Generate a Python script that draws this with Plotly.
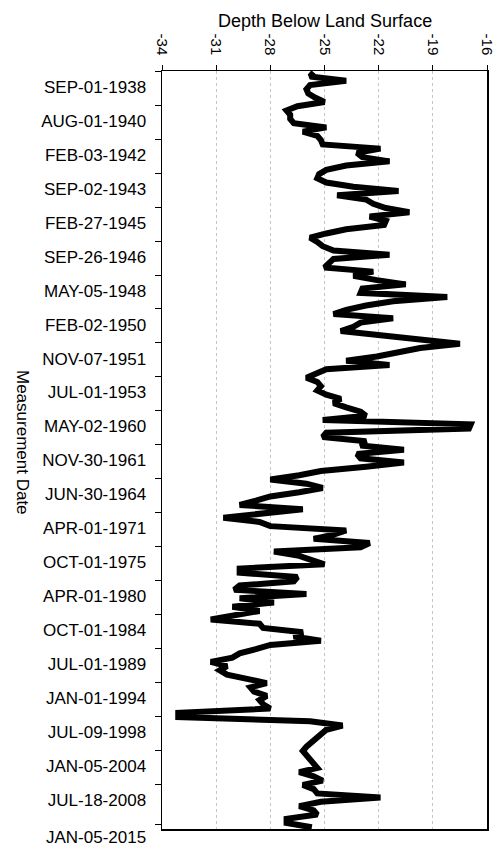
import plotly.graph_objects as go

# Depth below land surface, one value per measurement (top = oldest)
depth = [
    -25.6, -25.8, -23.8, -25.8, -26.0, -25.9, -25.5, -25.0, -26.5, -27.1,
    -26.9, -26.9, -26.7, -24.9, -26.2, -25.4, -25.2, -25.1, -21.9, -23.2,
    -22.9, -21.4, -23.8, -24.9, -25.3, -25.4, -24.9, -23.4, -20.9, -24.3,
    -22.7, -22.3, -21.6, -20.3, -22.5, -21.6, -21.7, -23.8, -24.9, -25.8,
    -25.4, -25.1, -24.5, -21.4, -24.5, -24.7, -25.0, -22.3, -23.4, -22.1,
    -20.5, -22.9, -23.0, -18.2, -21.2, -22.7, -23.8, -24.5, -21.2, -23.0,
    -23.4, -24.1, -22.1, -19.5, -17.5, -19.7, -20.8, -22.1, -23.8, -21.4,
    -24.9, -25.4, -26.0, -25.4, -25.2, -25.4, -24.9, -24.1, -24.5, -23.8,
    -23.0, -22.7, -25.1, -16.9, -17.0, -24.9, -25.1, -22.7, -23.0, -20.6,
    -23.2, -23.0, -20.6, -22.7, -25.2, -26.4, -28.0, -26.0, -25.1, -26.4,
    -28.0, -28.8, -29.7, -26.2, -28.6, -30.6, -28.6, -28.0, -23.8, -24.5,
    -25.6, -22.5, -23.0, -27.8, -26.4, -25.8, -25.0, -29.7, -29.7, -26.5,
    -26.7, -29.7, -30.0, -26.0, -29.7, -27.8, -30.1, -28.6, -30.1, -31.3,
    -28.6, -28.4, -26.2, -26.7, -25.2, -28.0, -28.8, -29.7, -30.1, -31.3,
    -30.4, -30.8, -30.4, -29.3, -28.2, -29.1, -28.9, -28.2, -28.6, -28.4,
    -28.0, -33.1, -33.1, -25.8, -24.0, -24.9, -25.2, -25.4, -25.7, -26.0,
    -26.2, -26.0, -25.8, -25.6, -25.4, -26.4, -25.6, -25.1, -26.2, -25.6,
    -25.4, -21.9, -25.2, -26.4, -25.6, -25.4, -27.1, -27.1, -25.7,
]
measurement = list(range(len(depth)))

date_labels = [
    "SEP-01-1938", "AUG-01-1940", "FEB-03-1942", "SEP-02-1943", "FEB-27-1945",
    "SEP-26-1946", "MAY-05-1948", "FEB-02-1950", "NOV-07-1951", "JUL-01-1953",
    "MAY-02-1960", "NOV-30-1961", "JUN-30-1964", "APR-01-1971", "OCT-01-1975",
    "APR-01-1980", "OCT-01-1984", "JUL-01-1989", "JAN-01-1994", "JUL-09-1998",
    "JAN-05-2004", "JUL-18-2008",
]
last_label = "JAN-05-2015"
label_step = 8
label_pos = [3.5 + label_step * k for k in range(len(date_labels))]
tick_pos = [label_step * k - 0.2 for k in range(len(date_labels))] + [177.4]

depth_ticks = [-34, -31, -28, -25, -22, -19, -16]

FONT = "Liberation Sans, Arial, sans-serif"

fig = go.Figure()
fig.add_trace(go.Scatter(
    x=depth, y=measurement, mode="lines",
    line=dict(color="black", width=6),
    hoverinfo="skip", showlegend=False,
))

fig.update_layout(
    template="none",
    width=499, height=857,
    margin=dict(l=162, r=12, t=71, b=28, pad=0),
    paper_bgcolor="white", plot_bgcolor="white",
    font=dict(family=FONT, size=16, color="black"),
    xaxis=dict(
        range=[-34, -16], side="top", automargin=False,
        tickmode="array", tickvals=depth_ticks,
        ticktext=[str(v) for v in depth_ticks],
        tickangle=90, ticks="outside", ticklen=5, tickwidth=1, tickcolor="black",
        ticklabelstandoff=4,
        tickfont=dict(size=15),
        showline=True, mirror=True, linecolor="black", linewidth=1.5,
        showgrid=True, gridcolor="#c4c4c4", griddash="dot", gridwidth=1,
        zeroline=False,
    ),
    yaxis=dict(
        range=[178.4, -0.3], automargin=False,
        tickmode="array", tickvals=label_pos, ticktext=date_labels,
        ticks="outside", ticklen=11, tickcolor="rgba(0,0,0,0)",
        tickfont=dict(size=17),
        minor=dict(tickmode="array", tickvals=tick_pos, ticks="outside",
                   ticklen=6, tickcolor="black", tickwidth=1, showgrid=False),
        showline=True, mirror=True, linecolor="black", linewidth=1.5,
        showgrid=False, zeroline=False,
    ),
    annotations=[
        dict(text="Depth Below Land Surface", xref="paper", yref="paper",
             x=0.5, y=(829 - 21) / 758, xanchor="center", yanchor="middle",
             showarrow=False, font=dict(size=18)),
        dict(text="Measurement Date", xref="paper", yref="paper",
             x=(22 - 162) / 325, y=(829 - 442) / 758, textangle=90,
             xanchor="center", yanchor="middle", showarrow=False,
             font=dict(size=17)),
        dict(text=last_label, xref="paper", yref="paper",
             x=(148 - 162) / 325, y=(829 - 838) / 758,
             xanchor="right", yanchor="middle", showarrow=False,
             font=dict(size=17)),
    ],
)

fig.write_html(
    "out.html",
    config={"displayModeBar": False, "staticPlot": True},
    post_script="document.body.style.margin='0';document.body.style.overflow='hidden';",
)
